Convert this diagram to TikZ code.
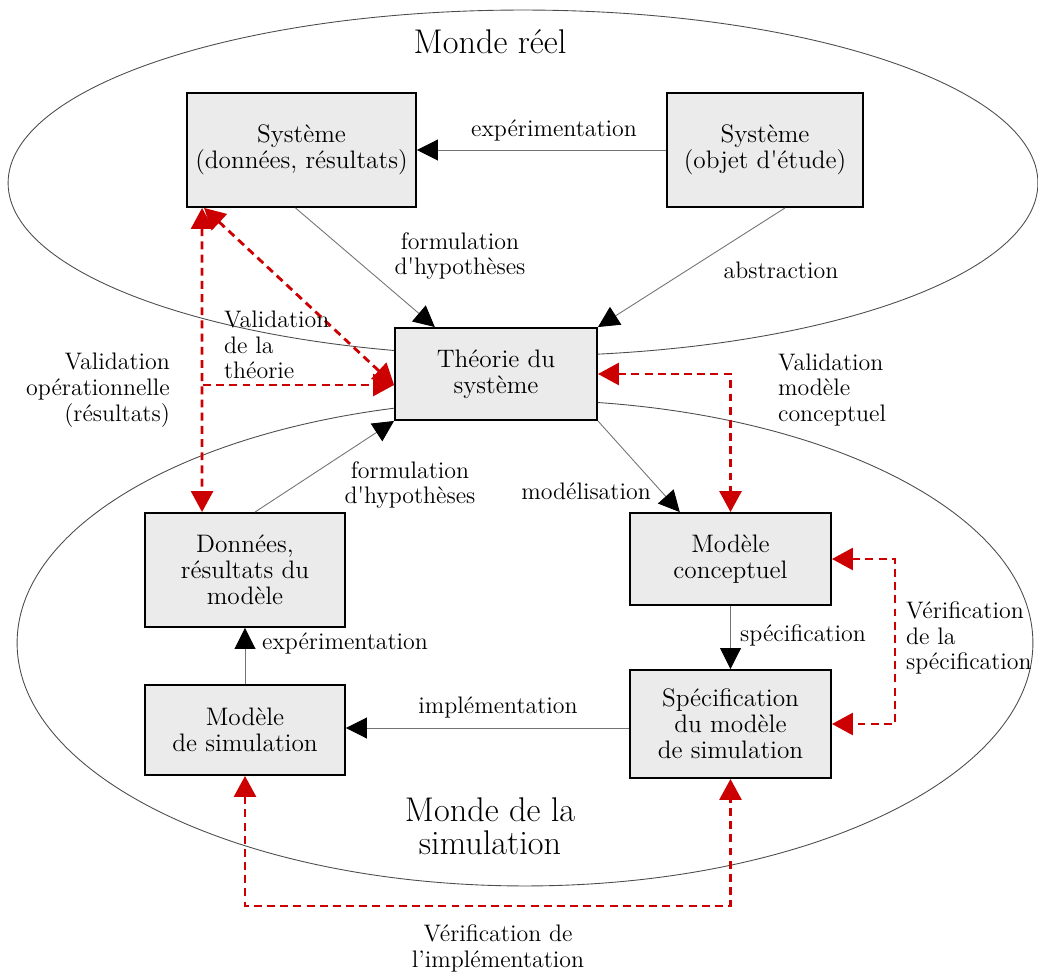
\documentclass[tikz,border=0pt]{standalone}
\usepackage{tikz}
\usetikzlibrary{arrows.meta,positioning,calc}
\definecolor{valred}{HTML}{CC0000}
\definecolor{boxgray}{HTML}{EBEBEB}

\begin{document}
\begin{tikzpicture}[
  x=0.02cm, y=-0.02cm,
  font=\fontsize{13.6}{14.7}\selectfont,
  box/.style={draw=black, line width=1.1pt, fill=boxgray,
              align=center, inner sep=2pt, font=\fontsize{14.4}{14.7}\selectfont},
  world/.style={draw=black!70, line width=0.5pt},
  title/.style={font=\fontsize{19.5}{19}\selectfont, align=center},
  msg/.style={-{Triangle[length=4.2mm, width=4.2mm, color=black]},
              draw=black!55, line width=0.5pt},
  valid/.style={draw=valred, line width=1.6pt, dash pattern=on 4.5pt off 3pt,
                >={Triangle[length=4.2mm, width=4.4mm]}},
  lbl/.style={align=center, inner sep=1pt}
]
\useasboundingbox (0,0) rectangle (1038,973);

% ==================== Worlds ====================
\draw[world] (523,183) ellipse [x radius=10.3cm, y radius=3.46cm];
\draw[world] (525,643) ellipse [x radius=10.16cm, y radius=4.86cm];
\node[title] (mondereel) at (490,42) {Monde réel};
\node[title] (mondesim)  at (490,826) {Monde de la\\simulation};

% ==================== Boxes ====================
\node[box, minimum width=4.58cm, minimum height=2.28cm] (sysres)  at (301.5,150)
  {Système\\(données, résultats)};
\node[box, minimum width=3.92cm, minimum height=2.28cm] (sysobj)  at (765,150)
  {Système\\(objet d\textquotesingle étude)};
\node[box, minimum width=4.04cm, minimum height=1.84cm] (theorie) at (496,374)
  {Théorie du\\système};
\node[box, minimum width=4.0cm,  minimum height=2.28cm] (donnees) at (245,570)
  {Données,\\résultats du\\modèle};
\node[box, minimum width=4.02cm, minimum height=1.84cm] (modconc) at (730.5,559)
  {Modèle\\conceptuel};
\node[box, minimum width=4.0cm,  minimum height=1.8cm]  (modsim)  at (245,730)
  {Modèle\\de simulation};
\node[box, minimum width=4.02cm, minimum height=2.16cm] (spec)    at (730.5,724)
  {Spécification\\du modèle\\de simulation};

% ==================== Process arrows ====================
\draw[msg] (sysobj.west) -- (sysres.east);
\draw[msg] ($(sysres.south)+(-6,0)$) -- ($(theorie.north west)!0.2!(theorie.north east)$);
\draw[msg] ($(sysobj.south)+(20,0)$) -- (theorie.north east);
\draw[msg] (theorie.south east) -- ($(modconc.north west)!0.25!(modconc.north east)$);
\draw[msg] ($(donnees.north)+(10,0)$) -- (theorie.south west);
\draw[msg] (modconc.south) -- (spec.north);
\draw[msg] ($(spec.west)+(0,4)$) -- ($(modsim.east)+(0,-2)$);
\draw[msg] (modsim) -- (donnees);

\node[lbl] (lexpsys) at (554,130) {expérimentation};
\node[lbl] (lformsys) at (460,256) {formulation\\d\textquotesingle hypothèses};
\node[lbl] (labstr) at (781,270) {abstraction};
\node[lbl] (lformmod) at (410,485) {formulation\\d\textquotesingle hypothèses};
\node[lbl] (lmodel) at (586,491) {modélisation};
\node[lbl] (lexpmod) at (345,643) {expérimentation};
\node[lbl] (lspec) at (803,635) {spécification};
\node[lbl] (limpl) at (498,707) {implémentation};

% ==================== Validation / verification ====================
\coordinate (vop) at (203,385);
\draw[valid, <->] ($(sysres.south west)+(16,0)$) -- ($(donnees.north west)+(58,0)$);
\draw[valid, ->] (vop) -- (vop -| theorie.west);
\draw[valid, <->] ($(sysres.south west)+(18,0)$) -- (vop -| theorie.west);
\draw[valid, <->] (theorie.east) -| (modconc.north);
\draw[valid, <->] (modconc.east) -- ++(63,0) |- (spec.east);
\draw[valid, <->] (modsim.south) -- ++(0,130) -| (spec.south);

\node[lbl, anchor=east, align=right] (lvalop) at (172,390)
  {Validation\\opérationnelle\\(résultats)};
\node[lbl, anchor=west, align=left] (lvalth) at (222,345)
  {Validation\\de la\\théorie};
\node[lbl, anchor=west, align=left] (lvalmc) at (776,390)
  {Validation\\modèle\\conceptuel};
\node[lbl, anchor=west, align=left] (lverspec) at (904,638)
  {Vérification\\de la\\spécification};
\node[lbl] (lverimpl) at (498,948) {Vérification de\\l’implémentation};

\end{tikzpicture}
\end{document}
